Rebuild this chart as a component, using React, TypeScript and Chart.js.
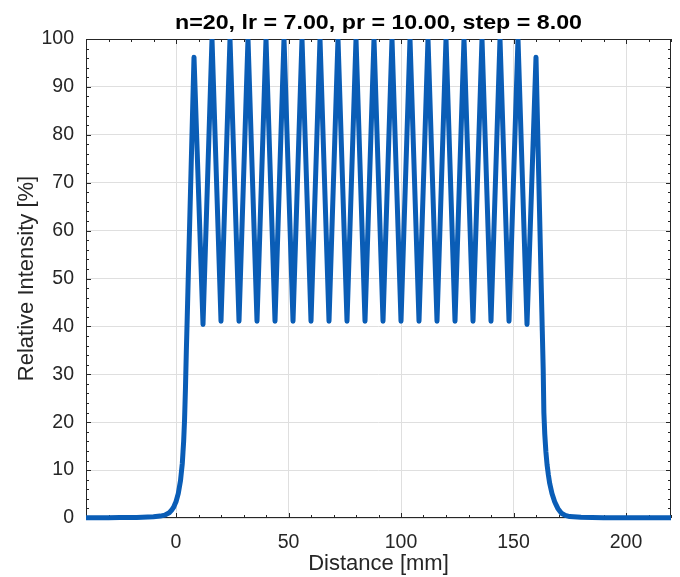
import React, { useEffect, useRef } from 'react';
import { Chart, registerables } from 'chart.js';

Chart.register(...registerables);

const TITLE = 'n=20, lr = 7.00, pr = 10.00, step = 8.00';
const X_LABEL = 'Distance [mm]';
const Y_LABEL = 'Relative Intensity [%]';

const xTicks = [0, 50, 100, 150, 200];
const yTicks = [0, 10, 20, 30, 40, 50, 60, 70, 80, 90, 100];
const xRange = [-40, 220];
const yRange = [0, 100];
const xMinorStep = 10;
const yMinorStep = 2;

// rising edge (left tail)
const riseX = [-40, -30, -20, -15, -10, -7, -5, -3, -2, -1, 0, 1, 2, 2.8, 3.4, 3.8, 4.2, 4.6, 5.0, 5.3];
const riseY = [0.05, 0.07, 0.1, 0.15, 0.25, 0.4, 0.6, 1.1, 1.6, 2.3, 3.4, 5.1, 7.8, 11.4, 16.0, 20.5, 27, 35, 42, 47.5];

// comb of peaks and valleys
const combX = [8, 12, 16, 20, 24, 28, 32, 36, 40, 44, 48, 52, 56, 60, 64, 68, 72, 76, 80, 84,
  88, 92, 96, 100, 104, 108, 112, 116, 120, 124, 128, 132, 136, 140, 144, 148, 152, 156, 160];
const combY = [96.2, 40.4, 100, 41.1, 100, 41.1, 100, 41.1, 100, 41.1, 100, 41.1, 100, 41.1, 100, 41.1, 100, 41.1, 100, 41.1,
  100, 41.1, 100, 41.1, 100, 41.1, 100, 41.1, 100, 41.1, 100, 41.1, 100, 41.1, 100, 41.1, 100, 40.4, 96.2];

// falling edge (right tail)
const fallX = [162.4, 162.8, 163.2, 163.5, 163.9, 164.4, 164.9, 165.5, 166.1, 167.1, 168.3, 169.7, 171.3, 173, 175, 180, 190, 205, 220];
const fallY = [47, 39, 31, 22, 17.5, 13.8, 11.2, 9, 7.2, 5.1, 3.4, 2.0, 1.0, 0.55, 0.3, 0.15, 0.07, 0.04, 0.03];

const FONT = '"Liberation Sans", Arial, Helvetica, sans-serif';
const LINE_COLOR = '#0a5db6';
const AXIS_COLOR = '#262626';
const GRID_COLOR = '#dfdfdf';

const axesBox = {
  id: 'axesBox',
  beforeDatasetsDraw(chart: any) {
    const { ctx, chartArea, scales } = chart;
    const { left, right, top, bottom } = chartArea;
    const xs = scales.x;
    const ys = scales.y;
    ctx.save();
    ctx.strokeStyle = AXIS_COLOR;
    ctx.lineWidth = 1;
    ctx.beginPath();
    ctx.rect(left + 0.5, top + 0.5, right - left - 1, bottom - top - 1);
    ctx.stroke();
    ctx.beginPath();
    for (let v = xRange[0]; v <= xRange[1]; v += xMinorStep) {
      const len = xTicks.includes(v) ? 5 : 3;
      const px = Math.round(xs.getPixelForValue(v)) + 0.5;
      ctx.moveTo(px, bottom);
      ctx.lineTo(px, bottom - len);
      ctx.moveTo(px, top);
      ctx.lineTo(px, top + len);
    }
    for (let v = yRange[0]; v <= yRange[1]; v += yMinorStep) {
      const len = yTicks.includes(v) ? 5 : 3;
      const py = Math.round(ys.getPixelForValue(v)) + 0.5;
      ctx.moveTo(left, py);
      ctx.lineTo(left + len, py);
      ctx.moveTo(right, py);
      ctx.lineTo(right - len, py);
    }
    ctx.stroke();
    ctx.restore();
  },
  afterDraw(chart: any) {
    const { ctx, chartArea } = chart;
    const { left, right, top, bottom } = chartArea;
    const cx = (left + right) / 2;
    const cy = (top + bottom) / 2;
    ctx.save();
    // title
    ctx.fillStyle = '#000000';
    ctx.font = `bold 21px ${FONT}`;
    ctx.textAlign = 'center';
    ctx.textBaseline = 'alphabetic';
    const w = ctx.measureText(TITLE).width;
    ctx.save();
    ctx.translate(cx, 28.5);
    ctx.scale(407 / w, 1);
    ctx.fillText(TITLE, 0, 0);
    ctx.restore();
    // x label
    ctx.fillStyle = AXIS_COLOR;
    ctx.font = `22px ${FONT}`;
    ctx.textBaseline = 'alphabetic';
    ctx.fillText(X_LABEL, cx, 570);
    // y label
    ctx.save();
    ctx.translate(33, cy);
    ctx.rotate(-Math.PI / 2);
    ctx.fillText(Y_LABEL, 0, 0);
    ctx.restore();
    ctx.restore();
  },
};

export default function App() {
  const canvasRef = useRef<HTMLCanvasElement | null>(null);

  useEffect(() => {
    const canvas = canvasRef.current;
    if (!canvas) return;
    const xAll = [...riseX, ...combX, ...fallX];
    const yAll = [...riseY, ...combY, ...fallY];
    const points = xAll.map((x, i) => ({ x, y: yAll[i] }));

    const chart = new Chart(canvas, {
      type: 'line',
      data: {
        datasets: [
          {
            data: points,
            borderColor: LINE_COLOR,
            backgroundColor: LINE_COLOR,
            borderWidth: 5,
            pointRadius: 0,
            tension: 0.000001,
            borderJoinStyle: 'round',
            clip: { left: 0, top: 0, right: 0, bottom: 4 } as any,
          },
        ],
      },
      options: {
        animation: false,
        responsive: false,
        parsing: false as any,
        layout: { padding: { left: 0, top: 39, right: 9, bottom: 0 } },
        plugins: {
          legend: { display: false },
          title: { display: false },
          tooltip: { enabled: false },
        },
        scales: {
          x: {
            type: 'linear',
            min: xRange[0],
            max: xRange[1],
            afterBuildTicks: (scale: any) => {
              scale.ticks = xTicks.map((v) => ({ value: v }));
            },
            afterFit: (scale: any) => {
              scale.height = 59;
            },
            grid: { color: GRID_COLOR, drawTicks: false, lineWidth: 1 },
            border: { display: false },
            ticks: {
              color: AXIS_COLOR,
              font: { family: FONT, size: 19.5 },
              padding: 13,
              maxRotation: 0,
              autoSkip: false,
            },
          },
          y: {
            type: 'linear',
            min: yRange[0],
            max: yRange[1],
            afterBuildTicks: (scale: any) => {
              scale.ticks = yTicks.map((v) => ({ value: v }));
            },
            afterFit: (scale: any) => {
              scale.width = 86;
            },
            grid: { color: GRID_COLOR, drawTicks: false, lineWidth: 1 },
            border: { display: false },
            ticks: {
              color: AXIS_COLOR,
              font: { family: FONT, size: 19.5 },
              padding: 12,
              autoSkip: false,
            },
          },
        },
      },
      plugins: [axesBox],
    });
    return () => chart.destroy();
  }, []);

  return (
    <div style={{ position: 'absolute', left: 0, top: 0, width: 680, height: 577, background: '#ffffff' }}>
      <canvas ref={canvasRef} width={680} height={577} />
    </div>
  );
}
